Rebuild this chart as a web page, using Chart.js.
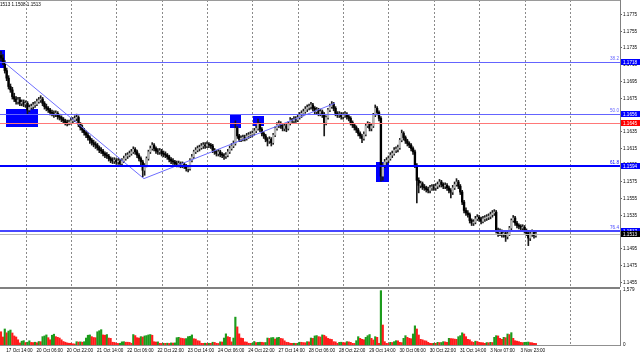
<!DOCTYPE html>
<html>
<head>
<meta charset="utf-8">
<script src="https://cdn.jsdelivr.net/npm/chart.js@4.4.1/dist/chart.umd.min.js"></script>
<style>
  html, body { margin: 0; padding: 0; background: #fff; }
  #wrap { position: relative; width: 640px; height: 356px; overflow: hidden; }
  #priceChart { position: absolute; left: 0; top: 0; }
  #volChart { position: absolute; left: 0; top: 287px; }
</style>
</head>
<body>
<div id="wrap">
  <canvas id="priceChart" width="640" height="287"></canvas>
  <canvas id="volChart" width="640" height="69"></canvas>
</div>
<script>
// EURUSD H1, one entry per hourly bar (bar 0 = 17 Oct 12:00)
const firstOpen = 1.1726;
const closes = [
  1.1723, 1.1718, 1.1708, 1.1699, 1.1689, 1.1685, 1.1677, 1.1674, 1.1671, 1.1673,
  1.1669, 1.1670, 1.1668, 1.1669, 1.1661, 1.1664, 1.1665, 1.1667, 1.1668, 1.1671,
  1.1673, 1.1674, 1.1669, 1.1665, 1.1663, 1.1661, 1.1658, 1.1657, 1.1656, 1.1657,
  1.1653, 1.1652, 1.1650, 1.1648, 1.1646, 1.1645, 1.1646, 1.1648, 1.1649, 1.1651,
  1.1652, 1.1644, 1.1640, 1.1637, 1.1634, 1.1631, 1.1628, 1.1625, 1.1622, 1.1620,
  1.1619, 1.1616, 1.1613, 1.1612, 1.1609, 1.1607, 1.1606, 1.1603, 1.1601, 1.1600,
  1.1601, 1.1599, 1.1600, 1.1597, 1.1600, 1.1603, 1.1606, 1.1607, 1.1609, 1.1611,
  1.1614, 1.1611, 1.1607, 1.1603, 1.1599, 1.1589, 1.1595, 1.1603, 1.1611, 1.1615,
  1.1619, 1.1615, 1.1612, 1.1611, 1.1612, 1.1609, 1.1608, 1.1607, 1.1605, 1.1602,
  1.1600, 1.1599, 1.1597, 1.1596, 1.1597, 1.1595, 1.1596, 1.1594, 1.1591, 1.1591,
  1.1601, 1.1605, 1.1611, 1.1613, 1.1615, 1.1616, 1.1618, 1.1619, 1.1618, 1.1620,
  1.1619, 1.1618, 1.1613, 1.1611, 1.1609, 1.1611, 1.1608, 1.1607, 1.1606, 1.1607,
  1.1611, 1.1615, 1.1618, 1.1621, 1.1639, 1.1630, 1.1626, 1.1627, 1.1628, 1.1627,
  1.1630, 1.1631, 1.1632, 1.1633, 1.1636, 1.1639, 1.1644, 1.1638, 1.1633, 1.1630,
  1.1626, 1.1624, 1.1626, 1.1622, 1.1631, 1.1639, 1.1643, 1.1645, 1.1642, 1.1639,
  1.1642, 1.1639, 1.1645, 1.1649, 1.1648, 1.1650, 1.1649, 1.1652, 1.1655, 1.1657,
  1.1659, 1.1662, 1.1664, 1.1665, 1.1667, 1.1663, 1.1659, 1.1661, 1.1657, 1.1659,
  1.1656, 1.1646, 1.1652, 1.1661, 1.1665, 1.1668, 1.1663, 1.1657, 1.1655, 1.1656,
  1.1653, 1.1655, 1.1656, 1.1653, 1.1651, 1.1646, 1.1643, 1.1640, 1.1637, 1.1633,
  1.1630, 1.1627, 1.1632, 1.1642, 1.1644, 1.1639, 1.1642, 1.1655, 1.1663, 1.1658,
  1.1651, 1.1582, 1.1595, 1.1599, 1.1601, 1.1603, 1.1607, 1.1609, 1.1613, 1.1614,
  1.1616, 1.1625, 1.1633, 1.1628, 1.1624, 1.1621, 1.1619, 1.1615, 1.1611, 1.1595,
  1.1577, 1.1571, 1.1573, 1.1569, 1.1568, 1.1566, 1.1565, 1.1568, 1.1569, 1.1568,
  1.1570, 1.1572, 1.1575, 1.1572, 1.1570, 1.1571, 1.1568, 1.1565, 1.1563, 1.1568,
  1.1572, 1.1575, 1.1570, 1.1563, 1.1551, 1.1541, 1.1538, 1.1536, 1.1529, 1.1526,
  1.1527, 1.1531, 1.1533, 1.1531, 1.1528, 1.1531, 1.1532, 1.1533, 1.1534, 1.1536,
  1.1538, 1.1539, 1.1517, 1.1514, 1.1515, 1.1513, 1.1514, 1.1510, 1.1513, 1.1520,
  1.1529, 1.1532, 1.1526, 1.1523, 1.1522, 1.1520, 1.1521, 1.1517, 1.1514, 1.1508,
  1.1513, 1.1515, 1.1511, 1.1513
];
const highs = [
  1.1731, 1.1727, 1.1720, 1.1711, 1.1702, 1.1692, 1.1688, 1.1681, 1.1677, 1.1676,
  1.1676, 1.1673, 1.1673, 1.1672, 1.1671, 1.1667, 1.1668, 1.1670, 1.1671, 1.1674,
  1.1676, 1.1678, 1.1676, 1.1671, 1.1668, 1.1665, 1.1663, 1.1661, 1.1660, 1.1660,
  1.1659, 1.1656, 1.1654, 1.1652, 1.1650, 1.1649, 1.1649, 1.1651, 1.1652, 1.1654,
  1.1656, 1.1654, 1.1646, 1.1643, 1.1639, 1.1636, 1.1634, 1.1630, 1.1627, 1.1625,
  1.1623, 1.1621, 1.1618, 1.1616, 1.1614, 1.1611, 1.1610, 1.1608, 1.1605, 1.1604,
  1.1604, 1.1603, 1.1603, 1.1602, 1.1603, 1.1606, 1.1609, 1.1610, 1.1612, 1.1614,
  1.1617, 1.1616, 1.1613, 1.1609, 1.1605, 1.1601, 1.1597, 1.1605, 1.1613, 1.1618,
  1.1622, 1.1621, 1.1617, 1.1615, 1.1615, 1.1614, 1.1612, 1.1611, 1.1609, 1.1607,
  1.1604, 1.1603, 1.1601, 1.1600, 1.1600, 1.1599, 1.1599, 1.1598, 1.1596, 1.1594,
  1.1603, 1.1608, 1.1613, 1.1616, 1.1618, 1.1619, 1.1621, 1.1622, 1.1622, 1.1623,
  1.1622, 1.1621, 1.1620, 1.1615, 1.1613, 1.1614, 1.1613, 1.1610, 1.1609, 1.1610,
  1.1614, 1.1618, 1.1621, 1.1624, 1.1648, 1.1641, 1.1632, 1.1630, 1.1631, 1.1631,
  1.1633, 1.1634, 1.1635, 1.1636, 1.1639, 1.1642, 1.1650, 1.1646, 1.1640, 1.1635,
  1.1632, 1.1628, 1.1629, 1.1628, 1.1633, 1.1641, 1.1646, 1.1648, 1.1647, 1.1644,
  1.1645, 1.1644, 1.1647, 1.1652, 1.1651, 1.1653, 1.1653, 1.1655, 1.1658, 1.1660,
  1.1662, 1.1665, 1.1667, 1.1668, 1.1670, 1.1669, 1.1665, 1.1664, 1.1663, 1.1662,
  1.1661, 1.1658, 1.1654, 1.1663, 1.1668, 1.1671, 1.1670, 1.1665, 1.1659, 1.1659,
  1.1658, 1.1658, 1.1659, 1.1658, 1.1655, 1.1653, 1.1648, 1.1645, 1.1642, 1.1639,
  1.1635, 1.1632, 1.1635, 1.1644, 1.1647, 1.1646, 1.1645, 1.1657, 1.1667, 1.1665,
  1.1660, 1.1653, 1.1597, 1.1602, 1.1604, 1.1606, 1.1610, 1.1612, 1.1616, 1.1617,
  1.1619, 1.1627, 1.1637, 1.1635, 1.1630, 1.1626, 1.1623, 1.1621, 1.1617, 1.1613,
  1.1597, 1.1580, 1.1576, 1.1575, 1.1572, 1.1570, 1.1569, 1.1571, 1.1572, 1.1572,
  1.1573, 1.1575, 1.1578, 1.1577, 1.1574, 1.1574, 1.1573, 1.1570, 1.1567, 1.1571,
  1.1575, 1.1579, 1.1577, 1.1572, 1.1565, 1.1553, 1.1544, 1.1541, 1.1538, 1.1531,
  1.1530, 1.1534, 1.1536, 1.1535, 1.1533, 1.1534, 1.1535, 1.1536, 1.1537, 1.1539,
  1.1541, 1.1542, 1.1541, 1.1520, 1.1519, 1.1518, 1.1517, 1.1516, 1.1516, 1.1522,
  1.1531, 1.1535, 1.1534, 1.1528, 1.1525, 1.1524, 1.1524, 1.1523, 1.1519, 1.1516,
  1.1515, 1.1518, 1.1517, 1.1516
];
const lows = [
  1.1720, 1.1715, 1.1705, 1.1696, 1.1686, 1.1682, 1.1674, 1.1671, 1.1668, 1.1668,
  1.1666, 1.1666, 1.1665, 1.1664, 1.1656, 1.1659, 1.1662, 1.1662, 1.1664, 1.1666,
  1.1669, 1.1670, 1.1666, 1.1662, 1.1660, 1.1658, 1.1655, 1.1654, 1.1652, 1.1653,
  1.1650, 1.1649, 1.1647, 1.1645, 1.1643, 1.1642, 1.1643, 1.1644, 1.1645, 1.1647,
  1.1648, 1.1641, 1.1637, 1.1634, 1.1631, 1.1628, 1.1625, 1.1621, 1.1619, 1.1617,
  1.1615, 1.1613, 1.1610, 1.1609, 1.1606, 1.1604, 1.1603, 1.1600, 1.1598, 1.1597,
  1.1597, 1.1596, 1.1596, 1.1594, 1.1595, 1.1598, 1.1601, 1.1603, 1.1605, 1.1607,
  1.1609, 1.1608, 1.1604, 1.1600, 1.1595, 1.1581, 1.1583, 1.1593, 1.1601, 1.1609,
  1.1613, 1.1612, 1.1609, 1.1608, 1.1608, 1.1606, 1.1605, 1.1604, 1.1602, 1.1599,
  1.1597, 1.1596, 1.1594, 1.1593, 1.1593, 1.1592, 1.1592, 1.1591, 1.1588, 1.1587,
  1.1589, 1.1599, 1.1603, 1.1609, 1.1611, 1.1612, 1.1614, 1.1615, 1.1615, 1.1616,
  1.1616, 1.1615, 1.1610, 1.1608, 1.1606, 1.1606, 1.1605, 1.1604, 1.1602, 1.1603,
  1.1605, 1.1609, 1.1613, 1.1616, 1.1619, 1.1627, 1.1623, 1.1623, 1.1624, 1.1624,
  1.1625, 1.1627, 1.1628, 1.1629, 1.1631, 1.1634, 1.1637, 1.1635, 1.1630, 1.1627,
  1.1623, 1.1618, 1.1621, 1.1618, 1.1620, 1.1629, 1.1637, 1.1640, 1.1639, 1.1636,
  1.1636, 1.1635, 1.1637, 1.1643, 1.1645, 1.1645, 1.1646, 1.1647, 1.1650, 1.1652,
  1.1654, 1.1657, 1.1659, 1.1661, 1.1662, 1.1660, 1.1656, 1.1656, 1.1654, 1.1654,
  1.1652, 1.1630, 1.1643, 1.1650, 1.1659, 1.1663, 1.1660, 1.1654, 1.1652, 1.1652,
  1.1650, 1.1650, 1.1652, 1.1650, 1.1648, 1.1643, 1.1640, 1.1637, 1.1634, 1.1630,
  1.1627, 1.1622, 1.1625, 1.1630, 1.1640, 1.1636, 1.1636, 1.1640, 1.1653, 1.1655,
  1.1648, 1.1576, 1.1577, 1.1592, 1.1596, 1.1598, 1.1601, 1.1604, 1.1607, 1.1610,
  1.1611, 1.1614, 1.1623, 1.1625, 1.1621, 1.1618, 1.1616, 1.1612, 1.1608, 1.1592,
  1.1550, 1.1562, 1.1568, 1.1566, 1.1565, 1.1563, 1.1562, 1.1562, 1.1565, 1.1565,
  1.1565, 1.1567, 1.1569, 1.1569, 1.1567, 1.1567, 1.1565, 1.1562, 1.1556, 1.1560,
  1.1566, 1.1570, 1.1567, 1.1560, 1.1548, 1.1538, 1.1535, 1.1533, 1.1526, 1.1523,
  1.1523, 1.1525, 1.1529, 1.1528, 1.1525, 1.1526, 1.1528, 1.1529, 1.1530, 1.1531,
  1.1533, 1.1535, 1.1514, 1.1510, 1.1511, 1.1509, 1.1509, 1.1504, 1.1507, 1.1511,
  1.1518, 1.1527, 1.1523, 1.1520, 1.1519, 1.1517, 1.1517, 1.1514, 1.1511, 1.1499,
  1.1505, 1.1510, 1.1508, 1.1509
];
const volumes = [
  380, 230, 460, 350, 400, 430, 345, 260, 230, 150,
  60, 110, 125, 70, 80, 120, 75, 70, 80, 65,
  100, 95, 240, 260, 290, 210, 150, 280, 310, 240,
  220, 200, 150, 100, 80, 60, 50, 50, 35, 30,
  95, 85, 90, 80, 95, 200, 280, 290, 240, 215,
  210, 380, 410, 440, 290, 280, 300, 200, 190, 80,
  75, 50, 45, 50, 90, 95, 80, 80, 75, 50,
  300, 270, 210, 200, 240, 230, 260, 270, 290, 300,
  280, 95, 85, 90, 50, 45, 50, 48, 52, 45,
  60, 55, 60, 210, 220, 200, 190, 180, 185, 240,
  250, 290, 180, 170, 125, 115, 50, 48, 52, 45,
  50, 48, 80, 75, 50, 45, 90, 85, 200, 320,
  240, 220, 90, 200, 800, 520, 320, 200, 190, 90,
  85, 50, 48, 52, 100, 70, 75, 80, 78, 70,
  72, 200, 190, 210, 215, 170, 210, 220, 190, 180,
  120, 80, 75, 50, 48, 50, 45, 50, 80, 78,
  70, 65, 96, 90, 200, 190, 260, 270, 240, 230,
  290, 280, 240, 190, 170, 160, 96, 90, 48, 77,
  80, 70, 65, 96, 90, 77, 48, 45, 124, 239,
  191, 163, 150, 220, 268, 300, 191, 144, 239, 220,
  48, 1560, 574, 96, 48, 45, 77, 72, 96, 124,
  120, 77, 70, 191, 268, 220, 191, 180, 316, 550,
  460, 287, 163, 150, 124, 115, 77, 48, 45, 50,
  48, 77, 70, 72, 96, 90, 77, 191, 185, 180,
  170, 163, 239, 268, 350, 316, 239, 163, 150, 96,
  77, 110, 100, 77, 70, 65, 48, 70, 65, 77,
  72, 220, 268, 260, 191, 163, 220, 210, 316, 300,
  354, 191, 124, 110, 96, 77, 70, 77, 80, 85,
  70, 65, 48, 45
];

const priceTicks = [1.1455, 1.1475, 1.1495, 1.1515, 1.1535, 1.1555, 1.1575, 1.1595, 1.1615,
  1.1635, 1.1655, 1.1675, 1.1695, 1.1715, 1.1735, 1.1755, 1.1775];
const volumeTicks = [0, 1579];
const timeLabels = ['17 Oct 14:00', '20 Oct 06:00', '20 Oct 22:00', '21 Oct 14:00', '22 Oct 06:00',
  '22 Oct 22:00', '23 Oct 14:00', '24 Oct 06:00', '24 Oct 22:00', '27 Oct 14:00', '28 Oct 06:00',
  '28 Oct 22:00', '29 Oct 14:00', '30 Oct 06:00', '30 Oct 22:00', '31 Oct 14:00', '3 Nov 07:00', '3 Nov 23:00'];
const labelBars = [2, 18, 34, 50, 66, 82, 98, 114, 130, 146, 162, 178, 194, 210, 226, 242, 258, 274];
const gridBars = [13.25, 37.25, 61.25, 85.25, 109.25, 133.25, 157.25, 181.25, 205.25, 229.25, 253.25, 277.25, 301.25];

const fibLevels = [1.1718, 1.1656, 1.1594, 1.1517];
const fibNames = ['38.2', '50.0', '61.8', '76.4'];
const markLevel = 1.1645;
const lastPrice = 1.1513;
const headerText = '1513 1.1508 1.1513';
const trendPoints = [{x: 2.1, y: 1.1717}, {x: 75.6, y: 1.1579}, {x: 176.7, y: 1.1669}];
const zones = [
  {from: -0.6, to: 2.1, top: 1.1733, bottom: 1.1711},
  {from: 2.6, to: 19.6, top: 1.1662, bottom: 1.1641},
  {from: 121.2, to: 127.0, top: 1.1655, bottom: 1.1640},
  {from: 133.2, to: 138.8, top: 1.1654, bottom: 1.1642},
  {from: 198.4, to: 205.3, top: 1.1599, bottom: 1.1575}
];

// visible window
const xMin = -0.53, xMax = 327.5;
const priceMin = 1.14496, priceMax = 1.17923;

const FONT = {family: 'Liberation Sans', size: 4.6};
Chart.defaults.font.family = FONT.family;
Chart.defaults.animation = false;

const opens = closes.map((c, i) => i === 0 ? firstOpen : closes[i - 1]);
const isUp = closes.map((c, i) => c >= opens[i]);

function zeroPad(s) {
  s.paddingLeft = 0; s.paddingRight = 0; s.paddingTop = 0; s.paddingBottom = 0;
}

function gridAxis() {
  return {
    type: 'linear', position: 'bottom', min: xMin, max: xMax, offset: false,
    afterBuildTicks: s => { s.ticks = gridBars.map(v => ({value: v})); },
    ticks: {display: false},
    grid: {display: true, offset: false, drawTicks: false, color: '#8a8a8a', lineWidth: 1},
    border: {display: false, dash: [2, 2]},
    afterFit: s => { s.height = 0; zeroPad(s); }
  };
}

const priceOverlay = {
  id: 'priceOverlay',
  beforeDatasetsDraw(chart) {
    const {ctx, scales: {x, y}} = chart;
    ctx.save();
    ctx.fillStyle = '#0000ff';
    zones.forEach(z => {
      const x0 = x.getPixelForValue(z.from), x1 = x.getPixelForValue(z.to);
      const y0 = y.getPixelForValue(z.top), y1 = y.getPixelForValue(z.bottom);
      ctx.fillRect(Math.round(x0), Math.round(y0), Math.round(x1 - x0), Math.round(y1 - y0));
    });
    ctx.restore();
  },
  afterDatasetsDraw(chart) {
    const {ctx, chartArea, scales: {y}} = chart;
    const styles = [
      {color: '#6464ff', width: 1},
      {color: '#6464ff', width: 1},
      {color: '#0000ff', width: 2},
      {color: '#4646ff', width: 2}
    ];
    const hline = (v, color, width) => {
      const py = width === 1 ? Math.round(y.getPixelForValue(v)) + 0.5 : Math.round(y.getPixelForValue(v));
      ctx.strokeStyle = color;
      ctx.lineWidth = width;
      ctx.beginPath();
      ctx.moveTo(chartArea.left, py);
      ctx.lineTo(chartArea.right, py);
      ctx.stroke();
      return py;
    };
    ctx.save();
    hline(lastPrice, '#b8b8b8', 1);
    hline(markLevel, '#ff7878', 1);
    ctx.font = `${FONT.size}px ${FONT.family}`;
    ctx.textAlign = 'right';
    ctx.textBaseline = 'bottom';
    fibLevels.forEach((v, i) => {
      const st = styles[i];
      const py = hline(v, st.color, st.width);
      ctx.fillStyle = st.color;
      ctx.fillText(fibNames[i], chartArea.right - 1, py - 1);
    });
    ctx.restore();
  },
  afterDraw(chart) {
    const {ctx, chartArea, scales: {y}} = chart;
    const box = (v, bg) => {
      const py = y.getPixelForValue(v);
      ctx.fillStyle = bg;
      ctx.fillRect(chartArea.right + 1, Math.round(py) - 3, chart.width - chartArea.right - 1, 6);
      ctx.fillStyle = '#fff';
      ctx.fillText(v.toFixed(4), chartArea.right + 3, Math.round(py) + 0.3);
    };
    ctx.save();
    ctx.font = `${FONT.size}px ${FONT.family}`;
    ctx.textAlign = 'left';
    ctx.textBaseline = 'middle';
    fibLevels.forEach(v => box(v, '#0000ff'));
    box(markLevel, '#ff0000');
    box(lastPrice, '#000000');
    // top frame and header
    ctx.fillStyle = '#9a9a9a';
    ctx.fillRect(0, 0, chartArea.right, 1);
    ctx.fillStyle = '#000';
    ctx.textBaseline = 'top';
    ctx.fillText(headerText, 0, 2);
    ctx.restore();
  }
};

new Chart(document.getElementById('priceChart'), {
  type: 'bar',
  data: {
    datasets: [
      {
        type: 'line',
        data: trendPoints,
        borderColor: '#6e6eff',
        borderWidth: 1,
        pointRadius: 0,
        order: 0
      },
      {
        data: closes.map((c, i) => ({x: i, y: [opens[i], c]})),
        backgroundColor: isUp.map(u => u ? '#b4b4b4' : '#000000'),
        barThickness: 1.7,
        minBarLength: 1,
        borderWidth: 0,
        grouped: false,
        order: 1
      },
      {
        data: closes.map((c, i) => ({x: i, y: [lows[i], highs[i]]})),
        backgroundColor: '#1a1a1a',
        barThickness: 1,
        borderWidth: 0,
        grouped: false,
        order: 2
      }
    ]
  },
  options: {
    responsive: false,
    devicePixelRatio: 1,
    animation: false,
    layout: {padding: 0},
    plugins: {legend: {display: false}, tooltip: {enabled: false}},
    scales: {
      x: gridAxis(),
      y: {
        type: 'linear', position: 'right', min: priceMin, max: priceMax, beginAtZero: false,
        afterBuildTicks: s => { s.ticks = priceTicks.map(v => ({value: v})); },
        ticks: {font: FONT, color: '#000', padding: 1, callback: v => v.toFixed(4)},
        grid: {display: true, drawOnChartArea: false, drawTicks: true, tickLength: 2, color: '#606060'},
        border: {display: true, color: '#808080'},
        afterFit: s => { s.width = 20; zeroPad(s); }
      }
    }
  },
  plugins: [priceOverlay]
});

const volOverlay = {
  id: 'volOverlay',
  afterDraw(chart) {
    const {ctx, chartArea} = chart;
    ctx.save();
    ctx.fillStyle = '#808080';
    ctx.fillRect(0, 0, chartArea.right, 2);
    ctx.restore();
  }
};

new Chart(document.getElementById('volChart'), {
  type: 'bar',
  data: {
    datasets: [{
      data: volumes.map((v, i) => ({x: i, y: v})),
      backgroundColor: volumes.map((v, i) => i > 0 && v > volumes[i - 1] ? '#1c9c1c' : '#ff1c1c'),
      barThickness: 1.5,
      borderWidth: 0,
      grouped: false
    }]
  },
  options: {
    responsive: false,
    devicePixelRatio: 1,
    animation: false,
    layout: {padding: {top: 3}},
    plugins: {legend: {display: false}, tooltip: {enabled: false}},
    scales: {
      x: {
        type: 'linear', position: 'bottom', min: xMin, max: xMax, offset: false,
        afterBuildTicks: s => { s.ticks = labelBars.map(v => ({value: v})); },
        ticks: {
          font: FONT, color: '#000', padding: 3, align: 'start', labelOffset: 1.5,
          autoSkip: false, maxRotation: 0, minRotation: 0,
          callback: (v, i) => timeLabels[i]
        },
        grid: {display: false, drawTicks: false, offset: false},
        border: {display: true, color: '#909090'},
        afterFit: s => { s.height = 11; zeroPad(s); }
      },
      xg: gridAxis(),
      y: {
        type: 'linear', position: 'right', min: 0, max: 1579,
        afterBuildTicks: s => { s.ticks = volumeTicks.map(v => ({value: v})); },
        ticks: {font: FONT, color: '#000', padding: 3},
        grid: {display: false, drawTicks: false},
        border: {display: true, color: '#808080'},
        afterFit: s => { s.width = 20; zeroPad(s); }
      }
    }
  },
  plugins: [volOverlay]
});
</script>
</body>
</html>
